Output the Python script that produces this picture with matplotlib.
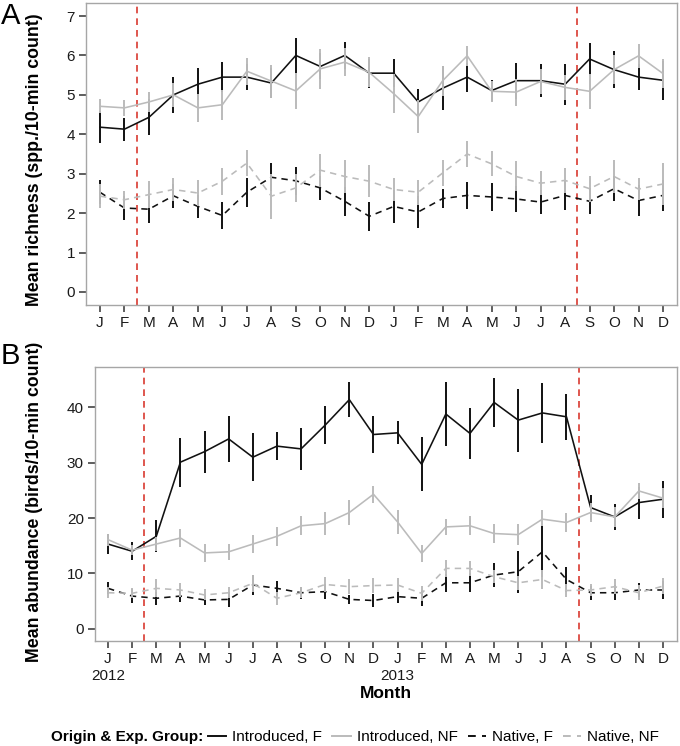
import matplotlib
matplotlib.use("Agg")
import matplotlib.pyplot as plt
from matplotlib.lines import Line2D
import numpy as np

plt.rcParams['font.family'] = ['Liberation Sans', 'DejaVu Sans']

months = ["J", "F", "M", "A", "M", "J", "J", "A", "S", "O", "N", "D",
          "J", "F", "M", "A", "M", "J", "J", "A", "S", "O", "N", "D"]
x = np.arange(1, 25)

# Panel A: mean richness
rich_intro_f = [4.18, 4.13, 4.43, 5.00, 5.27, 5.45, 5.45, 5.30, 6.00, 5.72, 6.00, 5.55,
                5.55, 4.82, 5.17, 5.45, 5.11, 5.36, 5.36, 5.27, 5.91, 5.64, 5.45, 5.37]
rich_intro_f_se = [0.41, 0.29, 0.46, 0.45, 0.41, 0.39, 0.33, 0.39, 0.44, 0.33, 0.34, 0.37,
                   0.35, 0.34, 0.55, 0.37, 0.27, 0.46, 0.42, 0.52, 0.40, 0.46, 0.33, 0.49]
rich_intro_nf = [4.71, 4.67, 4.82, 5.00, 4.67, 4.75, 5.60, 5.35, 5.10, 5.66, 5.83, 5.57,
                 5.03, 4.45, 5.36, 5.99, 5.09, 5.07, 5.34, 5.19, 5.09, 5.64, 5.99, 5.54]
rich_intro_nf_se = [0.18, 0.20, 0.26, 0.30, 0.35, 0.38, 0.34, 0.42, 0.46, 0.50, 0.35, 0.38,
                    0.49, 0.41, 0.38, 0.25, 0.27, 0.34, 0.32, 0.32, 0.44, 0.36, 0.30, 0.36]
rich_native_f = [2.53, 2.13, 2.10, 2.44, 2.17, 1.94, 2.53, 2.91, 2.82, 2.64, 2.30, 1.92,
                 2.17, 2.03, 2.37, 2.45, 2.41, 2.36, 2.28, 2.45, 2.30, 2.62, 2.32, 2.45]
rich_native_f_se = [0.30, 0.30, 0.34, 0.30, 0.30, 0.33, 0.37, 0.35, 0.35, 0.31, 0.37, 0.37,
                    0.41, 0.41, 0.25, 0.35, 0.35, 0.32, 0.31, 0.36, 0.33, 0.32, 0.40, 0.39]
rich_native_nf = [2.43, 2.34, 2.47, 2.60, 2.51, 2.81, 3.27, 2.43, 2.64, 3.09, 2.93, 2.81,
                  2.60, 2.53, 3.02, 3.50, 3.25, 2.93, 2.76, 2.83, 2.62, 2.93, 2.61, 2.74]
rich_native_nf_se = [0.30, 0.23, 0.35, 0.30, 0.34, 0.34, 0.34, 0.57, 0.35, 0.42, 0.41, 0.40,
                     0.28, 0.32, 0.34, 0.32, 0.32, 0.38, 0.30, 0.32, 0.33, 0.42, 0.27, 0.53]

# Panel B: mean abundance
abun_intro_f = [15.3, 14.0, 16.7, 30.1, 32.0, 34.3, 31.0, 33.0, 32.5, 36.8, 41.4, 35.1,
                35.4, 29.7, 38.8, 35.3, 40.9, 37.7, 39.0, 38.3, 21.9, 20.2, 22.8, 23.4]
abun_intro_f_se = [1.8, 1.6, 2.9, 4.4, 3.8, 4.1, 4.3, 2.5, 3.8, 3.5, 3.1, 3.4,
                   2.1, 4.9, 5.7, 4.6, 4.4, 5.7, 5.4, 4.2, 2.2, 2.3, 2.9, 3.3]
abun_intro_nf = [16.1, 14.2, 15.3, 16.4, 13.7, 13.9, 15.3, 16.7, 18.6, 19.0, 21.0, 24.3,
                 19.3, 13.6, 18.4, 18.6, 17.2, 17.0, 19.8, 19.2, 21.0, 20.2, 24.9, 23.6]
abun_intro_nf_se = [1.1, 0.9, 1.3, 1.6, 1.6, 1.5, 1.7, 1.7, 1.7, 2.1, 2.2, 1.5,
                    2.1, 1.6, 1.5, 1.7, 1.7, 1.9, 1.6, 1.8, 1.7, 1.8, 1.5, 1.8]
abun_native_f = [7.3, 5.9, 5.5, 5.9, 5.2, 5.3, 7.9, 7.3, 6.5, 6.7, 5.3, 5.1,
                 5.8, 5.5, 8.3, 8.3, 9.7, 10.3, 13.9, 8.9, 6.5, 6.5, 7.0, 7.0]
abun_native_f_se = [1.1, 1.2, 1.2, 1.1, 0.9, 1.4, 1.8, 1.4, 1.1, 1.4, 0.8, 1.1,
                    1.1, 1.4, 1.6, 1.7, 2.2, 3.8, 4.6, 2.3, 1.3, 1.4, 1.3, 1.7]
abun_native_nf = [6.5, 6.4, 7.3, 7.0, 6.1, 6.5, 8.2, 5.5, 6.5, 8.0, 7.6, 7.8,
                  7.9, 6.4, 10.9, 10.9, 9.4, 8.3, 8.9, 6.9, 7.0, 7.6, 6.5, 7.7]
abun_native_nf_se = [1.0, 0.9, 1.6, 1.2, 1.0, 1.0, 1.5, 1.2, 1.0, 1.3, 1.3, 1.3,
                     1.2, 1.4, 1.6, 1.4, 1.2, 1.3, 1.7, 1.2, 1.1, 1.3, 1.4, 1.5]

group_labels = ["Introduced, F", "Introduced, NF", "Native, F", "Native, NF"]
treatment_changes = [2.5, 20.5]

BLACK = "#111111"
GREY = "#bbbbbb"
DASH = (4, 3.2)
styles = [
    dict(color=BLACK, dashes=None),
    dict(color=GREY, dashes=None),
    dict(color=BLACK, dashes=DASH),
    dict(color=GREY, dashes=DASH),
]

W, H = 680, 746
fig = plt.figure(figsize=(W / 100, H / 100), dpi=100)


def fpos(l, r, t, b):
    return [l / W, 1 - b / H, (r - l) / W, (b - t) / H]


axA = fig.add_axes(fpos(86, 677, 3, 305))
axB = fig.add_axes(fpos(95, 677, 367, 641))


def draw(ax, series):
    for (m, se), st in zip(series, styles):
        m = np.asarray(m)
        se = np.asarray(se)
        ln, = ax.plot(x, m, color=st["color"], lw=1.15, zorder=3)
        if st["dashes"]:
            ln.set_dashes(st["dashes"])
        ax.vlines(x, m - se, m + se, color=st["color"], lw=1.4, zorder=3)
    for xv in treatment_changes:
        ax.axvline(xv, color="#d93a30", lw=1.2, dashes=(4, 3), zorder=2)
    for s in ax.spines.values():
        s.set_color("#a6a6a6")
        s.set_linewidth(1.0)
    ax.tick_params(axis="both", direction="out", length=5, width=1.1,
                   color="#333333", labelsize=11, labelcolor="#1a1a1a", pad=3)
    ax.set_xticks(x)


draw(axA, [(rich_intro_f, rich_intro_f_se), (rich_intro_nf, rich_intro_nf_se),
           (rich_native_f, rich_native_f_se), (rich_native_nf, rich_native_nf_se)])
axA.set_xlim(0.43, 24.57)
axA.set_ylim(-0.33, 7.33)
axA.set_yticks(range(0, 8))
axA.set_xticklabels(months)

draw(axB, [(abun_intro_f, abun_intro_f_se), (abun_intro_nf, abun_intro_nf_se),
           (abun_native_f, abun_native_f_se), (abun_native_nf, abun_native_nf_se)])
axB.set_xlim(0.46, 24.58)
axB.set_ylim(-2.22, 47.3)
axB.set_yticks([0, 10, 20, 30, 40])
labsB = list(months)
labsB[0] = "J\n2012"
labsB[12] = "J\n2013"
axB.set_xticklabels(labsB, linespacing=1.3)
axB.set_xlabel("Month", fontsize=12.5, fontweight="bold", labelpad=2)

fig.text(35 / W, 1 - 160 / H, "Mean richness (spp./10-min count)", rotation=90,
         ha="center", va="center", fontsize=12.8, fontweight="bold")
fig.text(35 / W, 1 - 502 / H, "Mean abundance (birds/10-min count)", rotation=90,
         ha="center", va="center", fontsize=12.8, fontweight="bold")
fig.text(1 / W, 1 - 2 / H, "A", fontsize=21, ha="left", va="top")
fig.text(1 / W, 1 - 342 / H, "B", fontsize=21, ha="left", va="top")

handles = []
for st in styles:
    h = Line2D([], [], color=st["color"], lw=1.4)
    if st["dashes"]:
        h.set_dashes(st["dashes"])
    handles.append(h)
fig.text(203 / W, 1 - 737 / H, "Origin & Exp. Group:", fontsize=11,
         fontweight="bold", ha="right", va="center")
fig.legend(handles, group_labels, loc="center left", bbox_to_anchor=(208 / W, 1 - 737 / H),
           ncol=4, frameon=False, fontsize=11, handlelength=1.2, handletextpad=0.4,
           columnspacing=0.65, borderpad=0, borderaxespad=0)

fig.savefig("out.png", dpi=100)
